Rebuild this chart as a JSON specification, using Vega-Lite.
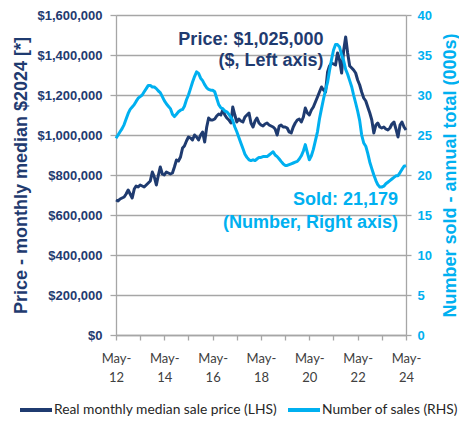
{
  "$schema": "https://vega.github.io/schema/vega-lite/v6.json",
  "width": 290,
  "height": 320,
  "autosize": {"type": "none"},
  "padding": {"left": 116, "top": 15, "right": 53, "bottom": 86},
  "config": {
    "view": {"stroke": null},
    "font": "Liberation Sans",
    "legend": {
      "orient": "none",
      "legendX": -98,
      "legendY": 377,
      "direction": "horizontal",
      "title": null,
      "symbolType": "stroke",
      "symbolSize": 1024,
      "symbolStrokeWidth": 4,
      "labelFont": "Lato",
      "labelFontSize": 13.8,
      "labelColor": "#262626",
      "labelOffset": 0,
      "columnPadding": 3,
      "labelLimit": 400
    }
  },
  "datasets": {
    "series": [
      {"date": "2012-05", "price": 675000, "sales": 24.6},
      {"date": "2012-06", "price": 670000, "sales": 25.0},
      {"date": "2012-07", "price": 680000, "sales": 25.4},
      {"date": "2012-08", "price": 685000, "sales": 25.8},
      {"date": "2012-09", "price": 690000, "sales": 26.3},
      {"date": "2012-10", "price": 705000, "sales": 27.0},
      {"date": "2012-11", "price": 725000, "sales": 27.7},
      {"date": "2012-12", "price": 705000, "sales": 28.2},
      {"date": "2013-01", "price": 685000, "sales": 28.5},
      {"date": "2013-02", "price": 730000, "sales": 28.8},
      {"date": "2013-03", "price": 745000, "sales": 29.2},
      {"date": "2013-04", "price": 740000, "sales": 29.6},
      {"date": "2013-05", "price": 750000, "sales": 29.8},
      {"date": "2013-06", "price": 745000, "sales": 30.0},
      {"date": "2013-07", "price": 740000, "sales": 30.4},
      {"date": "2013-08", "price": 750000, "sales": 30.8},
      {"date": "2013-09", "price": 760000, "sales": 31.2},
      {"date": "2013-10", "price": 770000, "sales": 31.2},
      {"date": "2013-11", "price": 815000, "sales": 31.0},
      {"date": "2013-12", "price": 790000, "sales": 31.0},
      {"date": "2014-01", "price": 750000, "sales": 30.8},
      {"date": "2014-02", "price": 800000, "sales": 30.5},
      {"date": "2014-03", "price": 840000, "sales": 30.3},
      {"date": "2014-04", "price": 805000, "sales": 29.8},
      {"date": "2014-05", "price": 800000, "sales": 29.3},
      {"date": "2014-06", "price": 815000, "sales": 28.9},
      {"date": "2014-07", "price": 810000, "sales": 28.6},
      {"date": "2014-08", "price": 805000, "sales": 28.3},
      {"date": "2014-09", "price": 810000, "sales": 27.6},
      {"date": "2014-10", "price": 840000, "sales": 27.3},
      {"date": "2014-11", "price": 875000, "sales": 27.6},
      {"date": "2014-12", "price": 870000, "sales": 27.9},
      {"date": "2015-01", "price": 890000, "sales": 28.1},
      {"date": "2015-02", "price": 935000, "sales": 28.2},
      {"date": "2015-03", "price": 945000, "sales": 28.6},
      {"date": "2015-04", "price": 970000, "sales": 29.4},
      {"date": "2015-05", "price": 990000, "sales": 30.0},
      {"date": "2015-06", "price": 985000, "sales": 30.8},
      {"date": "2015-07", "price": 975000, "sales": 31.6},
      {"date": "2015-08", "price": 1000000, "sales": 32.3},
      {"date": "2015-09", "price": 990000, "sales": 32.9},
      {"date": "2015-10", "price": 975000, "sales": 32.7},
      {"date": "2015-11", "price": 1000000, "sales": 32.1},
      {"date": "2015-12", "price": 1015000, "sales": 31.8},
      {"date": "2016-01", "price": 965000, "sales": 31.3},
      {"date": "2016-02", "price": 1040000, "sales": 30.9},
      {"date": "2016-03", "price": 1085000, "sales": 30.7},
      {"date": "2016-04", "price": 1075000, "sales": 30.6},
      {"date": "2016-05", "price": 1075000, "sales": 30.6},
      {"date": "2016-06", "price": 1080000, "sales": 30.4},
      {"date": "2016-07", "price": 1095000, "sales": 29.6},
      {"date": "2016-08", "price": 1105000, "sales": 28.8},
      {"date": "2016-09", "price": 1100000, "sales": 28.4},
      {"date": "2016-10", "price": 1125000, "sales": 28.3},
      {"date": "2016-11", "price": 1100000, "sales": 28.0},
      {"date": "2016-12", "price": 1085000, "sales": 27.9},
      {"date": "2017-01", "price": 1075000, "sales": 27.6},
      {"date": "2017-02", "price": 1060000, "sales": 27.2},
      {"date": "2017-03", "price": 1140000, "sales": 26.8},
      {"date": "2017-04", "price": 1100000, "sales": 26.0},
      {"date": "2017-05", "price": 1065000, "sales": 25.4},
      {"date": "2017-06", "price": 1080000, "sales": 24.7},
      {"date": "2017-07", "price": 1070000, "sales": 24.0},
      {"date": "2017-08", "price": 1065000, "sales": 23.3},
      {"date": "2017-09", "price": 1090000, "sales": 22.6},
      {"date": "2017-10", "price": 1100000, "sales": 22.2},
      {"date": "2017-11", "price": 1110000, "sales": 21.9},
      {"date": "2017-12", "price": 1060000, "sales": 21.8},
      {"date": "2018-01", "price": 1040000, "sales": 21.9},
      {"date": "2018-02", "price": 1070000, "sales": 21.8},
      {"date": "2018-03", "price": 1085000, "sales": 22.0},
      {"date": "2018-04", "price": 1060000, "sales": 22.2},
      {"date": "2018-05", "price": 1050000, "sales": 22.2},
      {"date": "2018-06", "price": 1045000, "sales": 22.3},
      {"date": "2018-07", "price": 1055000, "sales": 22.3},
      {"date": "2018-08", "price": 1060000, "sales": 22.3},
      {"date": "2018-09", "price": 1050000, "sales": 22.5},
      {"date": "2018-10", "price": 1045000, "sales": 22.7},
      {"date": "2018-11", "price": 1040000, "sales": 22.9},
      {"date": "2018-12", "price": 1030000, "sales": 22.5},
      {"date": "2019-01", "price": 1000000, "sales": 22.3},
      {"date": "2019-02", "price": 1045000, "sales": 22.0},
      {"date": "2019-03", "price": 1050000, "sales": 21.7},
      {"date": "2019-04", "price": 1040000, "sales": 21.4},
      {"date": "2019-05", "price": 1040000, "sales": 21.2},
      {"date": "2019-06", "price": 1035000, "sales": 21.2},
      {"date": "2019-07", "price": 1015000, "sales": 21.3},
      {"date": "2019-08", "price": 1010000, "sales": 21.4},
      {"date": "2019-09", "price": 1040000, "sales": 21.5},
      {"date": "2019-10", "price": 1060000, "sales": 21.6},
      {"date": "2019-11", "price": 1075000, "sales": 21.7},
      {"date": "2019-12", "price": 1080000, "sales": 22.0},
      {"date": "2020-01", "price": 1065000, "sales": 22.4},
      {"date": "2020-02", "price": 1090000, "sales": 23.0},
      {"date": "2020-03", "price": 1135000, "sales": 23.8},
      {"date": "2020-04", "price": 1110000, "sales": 22.8},
      {"date": "2020-05", "price": 1100000, "sales": 21.9},
      {"date": "2020-06", "price": 1125000, "sales": 22.4},
      {"date": "2020-07", "price": 1140000, "sales": 23.2},
      {"date": "2020-08", "price": 1165000, "sales": 24.3},
      {"date": "2020-09", "price": 1190000, "sales": 25.4},
      {"date": "2020-10", "price": 1215000, "sales": 27.0},
      {"date": "2020-11", "price": 1240000, "sales": 28.3},
      {"date": "2020-12", "price": 1225000, "sales": 29.5},
      {"date": "2021-01", "price": 1215000, "sales": 30.6},
      {"date": "2021-02", "price": 1315000, "sales": 31.6},
      {"date": "2021-03", "price": 1345000, "sales": 33.0},
      {"date": "2021-04", "price": 1360000, "sales": 34.4},
      {"date": "2021-05", "price": 1355000, "sales": 35.6},
      {"date": "2021-06", "price": 1350000, "sales": 36.3},
      {"date": "2021-07", "price": 1410000, "sales": 36.3},
      {"date": "2021-08", "price": 1375000, "sales": 36.0},
      {"date": "2021-09", "price": 1310000, "sales": 35.0},
      {"date": "2021-10", "price": 1420000, "sales": 34.3},
      {"date": "2021-11", "price": 1490000, "sales": 33.2},
      {"date": "2021-12", "price": 1410000, "sales": 32.6},
      {"date": "2022-01", "price": 1345000, "sales": 31.8},
      {"date": "2022-02", "price": 1335000, "sales": 31.0},
      {"date": "2022-03", "price": 1325000, "sales": 30.0},
      {"date": "2022-04", "price": 1310000, "sales": 29.0},
      {"date": "2022-05", "price": 1275000, "sales": 28.0},
      {"date": "2022-06", "price": 1250000, "sales": 26.8},
      {"date": "2022-07", "price": 1215000, "sales": 25.0},
      {"date": "2022-08", "price": 1185000, "sales": 24.0},
      {"date": "2022-09", "price": 1170000, "sales": 23.6},
      {"date": "2022-10", "price": 1140000, "sales": 22.7},
      {"date": "2022-11", "price": 1110000, "sales": 21.6},
      {"date": "2022-12", "price": 1075000, "sales": 20.8},
      {"date": "2023-01", "price": 1010000, "sales": 20.0},
      {"date": "2023-02", "price": 1050000, "sales": 19.3},
      {"date": "2023-03", "price": 1060000, "sales": 18.8},
      {"date": "2023-04", "price": 1040000, "sales": 18.5},
      {"date": "2023-05", "price": 1035000, "sales": 18.5},
      {"date": "2023-06", "price": 1040000, "sales": 18.6},
      {"date": "2023-07", "price": 1030000, "sales": 18.9},
      {"date": "2023-08", "price": 1025000, "sales": 19.1},
      {"date": "2023-09", "price": 1035000, "sales": 19.3},
      {"date": "2023-10", "price": 1055000, "sales": 19.5},
      {"date": "2023-11", "price": 1065000, "sales": 19.7},
      {"date": "2023-12", "price": 1030000, "sales": 19.9},
      {"date": "2024-01", "price": 990000, "sales": 19.9},
      {"date": "2024-02", "price": 1050000, "sales": 20.3},
      {"date": "2024-03", "price": 1065000, "sales": 20.7},
      {"date": "2024-04", "price": 1040000, "sales": 21.1},
      {"date": "2024-05", "price": 1025000, "sales": 21.179}
    ],
    "priceNotes": [
      {"date": "2020-12", "price": 1475000, "label": "Price: $1,025,000"},
      {"date": "2020-12", "price": 1370000, "label": "($, Left axis)"}
    ],
    "salesNotes": [
      {"date": "2024-01", "sales": 16.9, "label": "Sold: 21,179"},
      {"date": "2024-01", "sales": 14.0, "label": "(Number, Right axis)"}
    ]
  },
  "encoding": {
    "x": {
      "field": "date",
      "type": "temporal",
      "scale": {
        "type": "utc",
        "domain": [
          {"year": 2012, "month": "may", "date": 1, "utc": true},
          {"year": 2024, "month": "may", "date": 1, "utc": true}
        ]
      },
      "axis": {
        "title": null,
        "grid": false,
        "values": [
          {"year": 2012, "month": "may", "date": 1, "utc": true},
          {"year": 2013, "month": "may", "date": 1, "utc": true},
          {"year": 2014, "month": "may", "date": 1, "utc": true},
          {"year": 2015, "month": "may", "date": 1, "utc": true},
          {"year": 2016, "month": "may", "date": 1, "utc": true},
          {"year": 2017, "month": "may", "date": 1, "utc": true},
          {"year": 2018, "month": "may", "date": 1, "utc": true},
          {"year": 2019, "month": "may", "date": 1, "utc": true},
          {"year": 2020, "month": "may", "date": 1, "utc": true},
          {"year": 2021, "month": "may", "date": 1, "utc": true},
          {"year": 2022, "month": "may", "date": 1, "utc": true},
          {"year": 2023, "month": "may", "date": 1, "utc": true},
          {"year": 2024, "month": "may", "date": 1, "utc": true}
        ],
        "labelExpr": "utcyear(datum.value) % 2 == 0 ? ['May-', utcFormat(datum.value, '%y')] : ''",
        "labelOverlap": false,
        "labelFlush": false,
        "labelFont": "Lato",
        "labelFontSize": 13,
        "labelColor": "#404040",
        "labelLineHeight": 19,
        "labelPadding": 12,
        "tickSize": 5,
        "tickColor": "#A6A6A6",
        "tickWidth": 1.3,
        "domainColor": "#A6A6A6",
        "domainWidth": 1.3
      }
    }
  },
  "layer": [
    {
      "encoding": {
        "y": {
          "field": "price",
          "type": "quantitative",
          "scale": {"domain": [0, 1600000], "nice": false},
          "axis": {
            "orient": "left",
            "title": "Price - monthly median $2024 [*]",
            "titleFontSize": 18,
            "titleFontWeight": "bold",
            "titleColor": "#1F3B70",
            "titlePadding": 6,
            "values": [0, 200000, 400000, 600000, 800000, 1000000, 1200000, 1400000, 1600000],
            "format": "$,.0f",
            "labelFontSize": 13,
            "labelFontWeight": "bold",
            "labelColor": "#1F3B70",
            "labelPadding": 8,
            "tickSize": 6,
            "tickColor": "#A6A6A6",
            "tickWidth": 1.3,
            "domainColor": "#A6A6A6",
            "domainWidth": 1.3,
            "grid": true,
            "gridColor": "#A6A6A6",
            "gridWidth": 1.3
          }
        }
      },
      "layer": [
        {
          "data": {"name": "series"},
          "mark": {"type": "line", "strokeWidth": 3, "strokeJoin": "round"},
          "encoding": {
            "color": {
              "datum": "Real monthly median sale price (LHS)",
              "scale": {
                "domain": ["Real monthly median sale price (LHS)", "Number of sales (RHS)"],
                "range": ["#1F3B70", "#00B0F0"]
              }
            }
          }
        },
        {
          "data": {"name": "priceNotes"},
          "mark": {"type": "text", "align": "right", "baseline": "middle", "fontSize": 18, "fontWeight": "bold", "color": "#1F3B70"},
          "encoding": {"text": {"field": "label"}}
        }
      ]
    },
    {
      "encoding": {
        "y": {
          "field": "sales",
          "type": "quantitative",
          "scale": {"domain": [0, 40], "nice": false},
          "axis": {
            "orient": "right",
            "title": "Number sold - annual total (000s)",
            "titleFontSize": 18,
            "titleFontWeight": "bold",
            "titleColor": "#00B0F0",
            "titleAngle": 270,
            "titleBaseline": "top",
            "titlePadding": 10,
            "values": [0, 5, 10, 15, 20, 25, 30, 35, 40],
            "labelFontSize": 13,
            "labelFontWeight": "bold",
            "labelColor": "#00B0F0",
            "labelPadding": 6,
            "tickSize": 5,
            "tickColor": "#A6A6A6",
            "tickWidth": 1.3,
            "domainColor": "#A6A6A6",
            "domainWidth": 1.3,
            "grid": false
          }
        }
      },
      "layer": [
        {
          "data": {"name": "series"},
          "mark": {"type": "line", "strokeWidth": 3, "strokeJoin": "round"},
          "encoding": {"color": {"datum": "Number of sales (RHS)"}}
        },
        {
          "data": {"name": "salesNotes"},
          "mark": {"type": "text", "align": "right", "baseline": "middle", "fontSize": 18, "fontWeight": "bold", "color": "#00B0F0"},
          "encoding": {"text": {"field": "label"}}
        }
      ]
    }
  ],
  "resolve": {"scale": {"y": "independent"}}
}
